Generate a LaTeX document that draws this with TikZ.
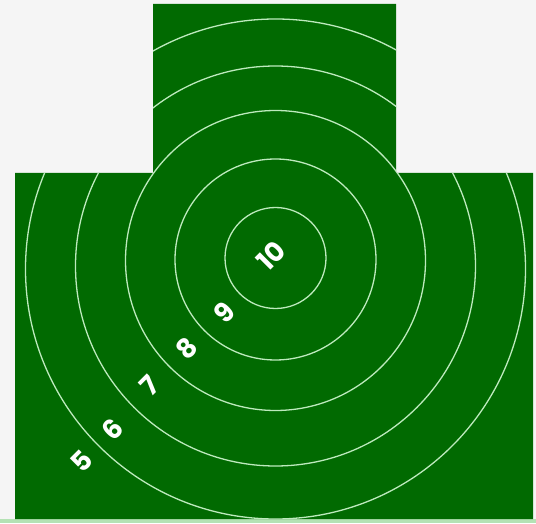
\documentclass[tikz,border=0pt]{standalone}
\usepackage{fontspec}
\setmainfont{Poppins}
\usepackage{tikz}
\usepackage{xcolor}
\definecolor{tgreen}{HTML}{016A01}
\definecolor{tring}{HTML}{BDEABD}
\definecolor{tpaper}{HTML}{F5F5F5}
\definecolor{tstrip}{HTML}{B4E2B4}
\tikzset{
  ring/.style  = {draw=tring, line width=1.3pt},
  score/.style = {text=white, font=\bfseries\fontsize{27}{27}\selectfont,
                  rotate=45, inner sep=0pt},
}

\begin{document}
\begin{tikzpicture}[x=1pt, y=1pt]
\useasboundingbox (0,0) rectangle (536,523);
% ---- paper ----
\fill[tpaper] (0,0) rectangle (536,523);
\fill[tstrip] (0,0) rectangle (536,4);
% ---- target silhouette ----
\fill[tgreen] (15,4) -- (533,4) -- (533,350) -- (396,350) -- (396,519)
              -- (153,519) -- (153,350) -- (15,350) -- cycle;
% ---- scoring rings ----
\begin{scope}
  \clip (15,4) -- (533,4) -- (533,350) -- (396,350) -- (396,519)
        -- (153,519) -- (153,350) -- (15,350) -- cycle;
  \foreach \r/\cy in {50.5/265, 100.5/263.5, 150/262.5, 200/257, 250/254}
    \draw[ring] (275.5,\cy) circle[radius=\r];
\end{scope}
% ---- ring values ----
\node[score] (v10) at (271,267) {10};
\node[score] (v9)  at (224,210) {9};
\node[score] (v8)  at (187,175) {8};
\node[score] (v7)  at (150,138) {7};
\node[score] (v6)  at (113,94)  {6};
\node[score] (v5)  at (82,62)   {5};
\end{tikzpicture}
\end{document}
